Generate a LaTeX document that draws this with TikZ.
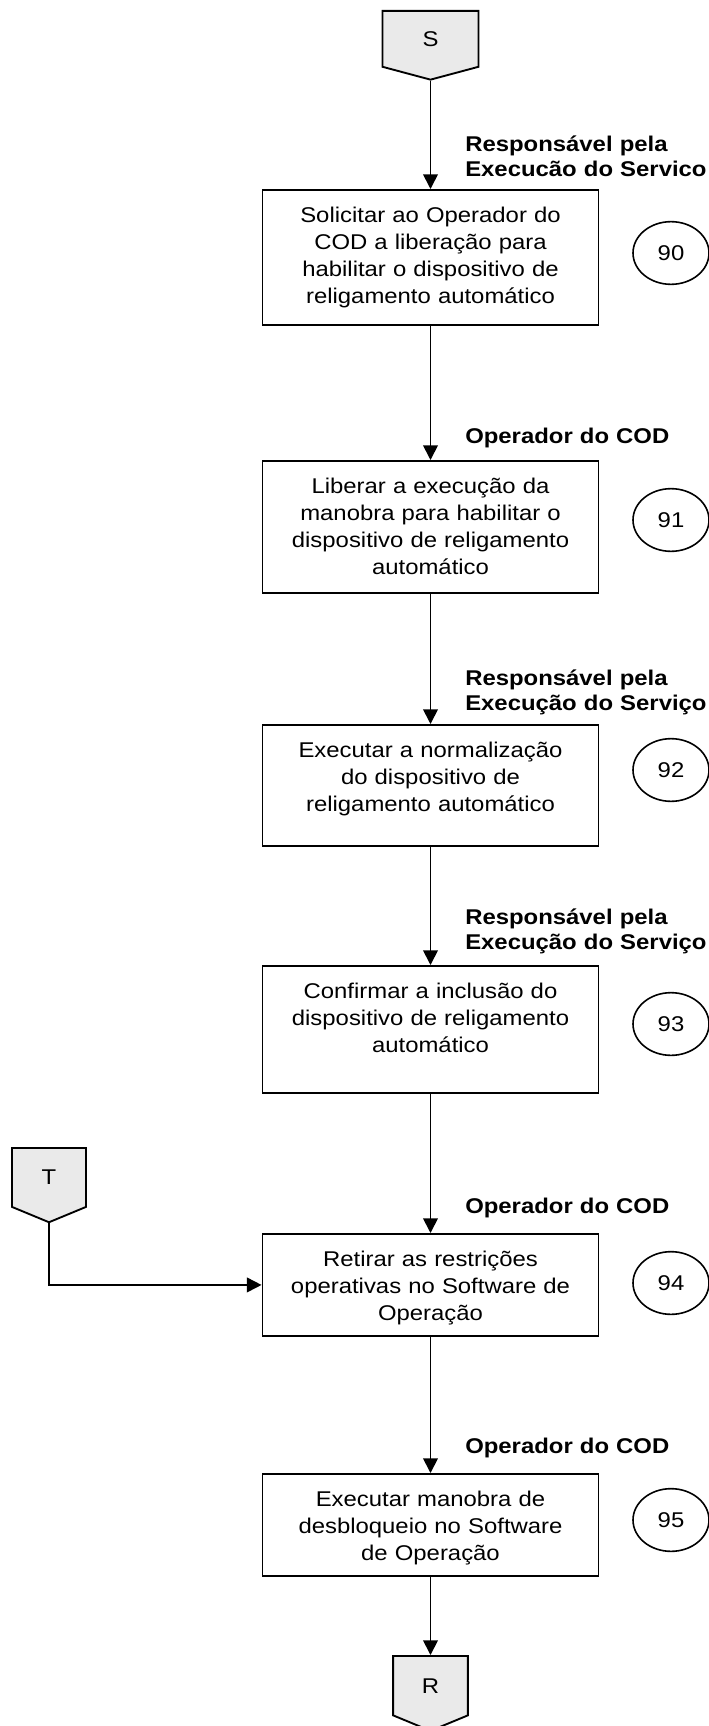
\documentclass[tikz,border=0pt]{standalone}
\usepackage{fontspec}
\setmainfont{Liberation Sans}[FakeStretch=1.12]
\usepackage{tikz}
\usetikzlibrary{arrows.meta, shapes.geometric, shapes.symbols, positioning}
\tikzset{>={Triangle[length=11pt, width=11pt]}}
\definecolor{mygray1}{RGB}{234, 234, 234}

\tikzset{
  passo/.style = {draw, line width = 1.4pt, text width = 240pt, align = center,
    inner xsep = 6pt, inner ysep = 0pt, text height = 24.5pt, anchor = north,
    font = \fontsize{16}{20.25}\selectfont},
  conector/.style = {draw, fill = mygray1, line width = 1.4pt, signal, signal to = south,
    anchor = north, inner sep = 0pt, font = \fontsize{16}{19}\selectfont},
  numero/.style = {draw, ellipse, line width = 1.2pt, inner sep = 0pt,
    minimum width = 57pt, minimum height = 47pt, font = \fontsize{16}{19}\selectfont},
  resp/.style = {anchor = base west, text width = 240pt, align = left, inner sep = 0pt,
    font = \fontsize{16}{18.75}\selectfont\bfseries},
  seta/.style = {->, line width = 1.3pt}
}

\begin{document}
\begin{tikzpicture}[x = 0.75pt, y = -0.75pt]
\useasboundingbox (0,0) rectangle (709,1726);

% conectores
\node[conector, signal pointer angle = 150, minimum width = 72pt, minimum height = 43.5pt] (S) at (430.5, 10) {S};
\node[conector, signal pointer angle = 135, minimum width = 55.5pt, minimum height = 46.5pt] (T) at (49, 1147) {T};
\node[conector, signal pointer angle = 135, minimum width = 56pt, minimum height = 47.25pt] (R) at (430.5, 1655) {R};

% passos
\node[passo, text depth = 76.75pt] (p90) at (430.5, 189) {Solicitar ao Operador do\\COD a liberação para\\habilitar o dispositivo de\\religamento automático};
\node[passo, text depth = 74.5pt] (p91) at (430.5, 460) {Liberar a execução da\\manobra para habilitar o\\dispositivo de religamento\\automático};
\node[passo, text depth = 66.25pt] (p92) at (430.5, 724) {Executar a normalização\\do dispositivo de\\religamento automático};
\node[passo, text depth = 70.75pt] (p93) at (430.5, 965) {Confirmar a inclusão do\\dispositivo de religamento\\automático};
\node[passo, text depth = 52pt] (p94) at (430.5, 1233) {Retirar as restrições\\operativas no Software de\\Operação};
\node[passo, text depth = 52pt] (p95) at (430.5, 1473) {Executar manobra de\\desbloqueio no Software\\de Operação};

% numeros
\node[numero] (n90) at (671, 253) {90};
\node[numero] (n91) at (671, 520) {91};
\node[numero] (n92) at (671, 770) {92};
\node[numero] (n93) at (671, 1024) {93};
\node[numero] (n94) at (671, 1283) {94};
\node[numero] (n95) at (671, 1520) {95};

% responsaveis
\node[resp] (r90) at (465, 152) {Responsável pela\\Execucão do Servico};
\node[resp] (r91) at (465, 443) {Operador do COD};
\node[resp] (r92) at (465, 685) {Responsável pela\\Execução do Serviço};
\node[resp] (r93) at (465, 924) {Responsável pela\\Execução do Serviço};
\node[resp] (r94) at (465, 1213) {Operador do COD};
\node[resp] (r95) at (465, 1453) {Operador do COD};

% setas
\draw[seta] (S.south) -- (p90);
\draw[seta] (p90) -- (p91);
\draw[seta] (p91) -- (p92);
\draw[seta] (p92) -- (p93);
\draw[seta] (p93) -- (p94);
\draw[seta] (T.south) |- (p94);
\draw[seta] (p94) -- (p95);
\draw[seta] (p95) -- (R.north);
\end{tikzpicture}
\end{document}
